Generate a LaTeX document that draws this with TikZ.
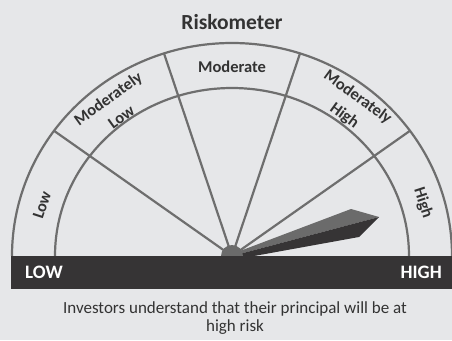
\documentclass[tikz,border=0pt]{standalone}
\usepackage{fontspec}
\setmainfont{Carlito}
\definecolor{bg}{HTML}{E6E7E9}
\definecolor{linec}{HTML}{6E6E6E}
\definecolor{barc}{HTML}{363435}
\definecolor{txt}{HTML}{333333}
\definecolor{needlelight}{HTML}{6B6B6B}
\definecolor{needledark}{HTML}{363435}
\begin{document}
\begin{tikzpicture}[x=1pt,y=1pt,
  ring/.style={draw=linec,line width=2.2pt},
  divider/.style={draw=linec,line width=2.2pt},
  bandlabel/.style={text=txt,font=\fontsize{16.5}{22.5}\selectfont\bfseries,align=center,inner sep=0pt},
  barlabel/.style={text=white,font=\fontsize{19}{20}\selectfont\bfseries,inner sep=0pt},
  caption/.style={text=txt,font=\fontsize{17}{18}\selectfont,align=center,inner sep=0pt}]
\fill[bg] (-232,-84) rectangle (220,256);
\useasboundingbox (-232,-84) rectangle (220,256);
% arcs
\draw[ring] (220,0) arc[start angle=0,end angle=180,x radius=220,y radius=213];
\draw[ring] (177,0) arc[start angle=0,end angle=180,x radius=177,y radius=168];
% dividers
\coordinate (hubc) at (0,0);
\foreach \a/\n in {36/d1,72/d2,108/d3,144/d4}{
  \coordinate (\n) at ({220*cos(\a)},{213*sin(\a)});
  \draw[divider] (hubc) -- (\n);
}
% needle
\coordinate (tip) at (147,39);
\coordinate (ub) at (119,47);
\coordinate (lb) at (127,19);
\fill[needlelight] (0,2) -- (ub) -- (tip) -- (0,0) -- cycle;
\fill[needledark] (0,0) -- (tip) -- (lb) -- (0,-4) -- cycle;
% hub
\node[circle,fill=needlelight,minimum size=22pt,inner sep=0pt] (hub) at (hubc) {};
% bar
\fill[barc] (-221,0) rectangle (220,-33);
\node[barlabel,anchor=west] (low) at (-207,-16) {LOW};
\node[barlabel,anchor=east] (high) at (210,-16) {HIGH};
% labels
\node[text=txt,font=\fontsize{21.5}{24}\selectfont\bfseries,inner sep=0pt] (title) at (0,234) {Riskometer};
\node[bandlabel] (moderate) at (0,189) {Moderate};
\node[bandlabel,rotate=36] (modlow) at (-117.5,148.5) {Moderately\\Low};
\node[bandlabel,rotate=-36] (modhigh) at (119,149.5) {Moderately\\High};
\node[bandlabel,rotate=72] (lowl) at (-190,51) {Low};
\node[bandlabel,rotate=-72] (highl) at (191,53) {High};
% caption
\node[caption] (cap) at (3,-62) {Investors understand that their principal will be at\\high risk};
\end{tikzpicture}
\end{document}
